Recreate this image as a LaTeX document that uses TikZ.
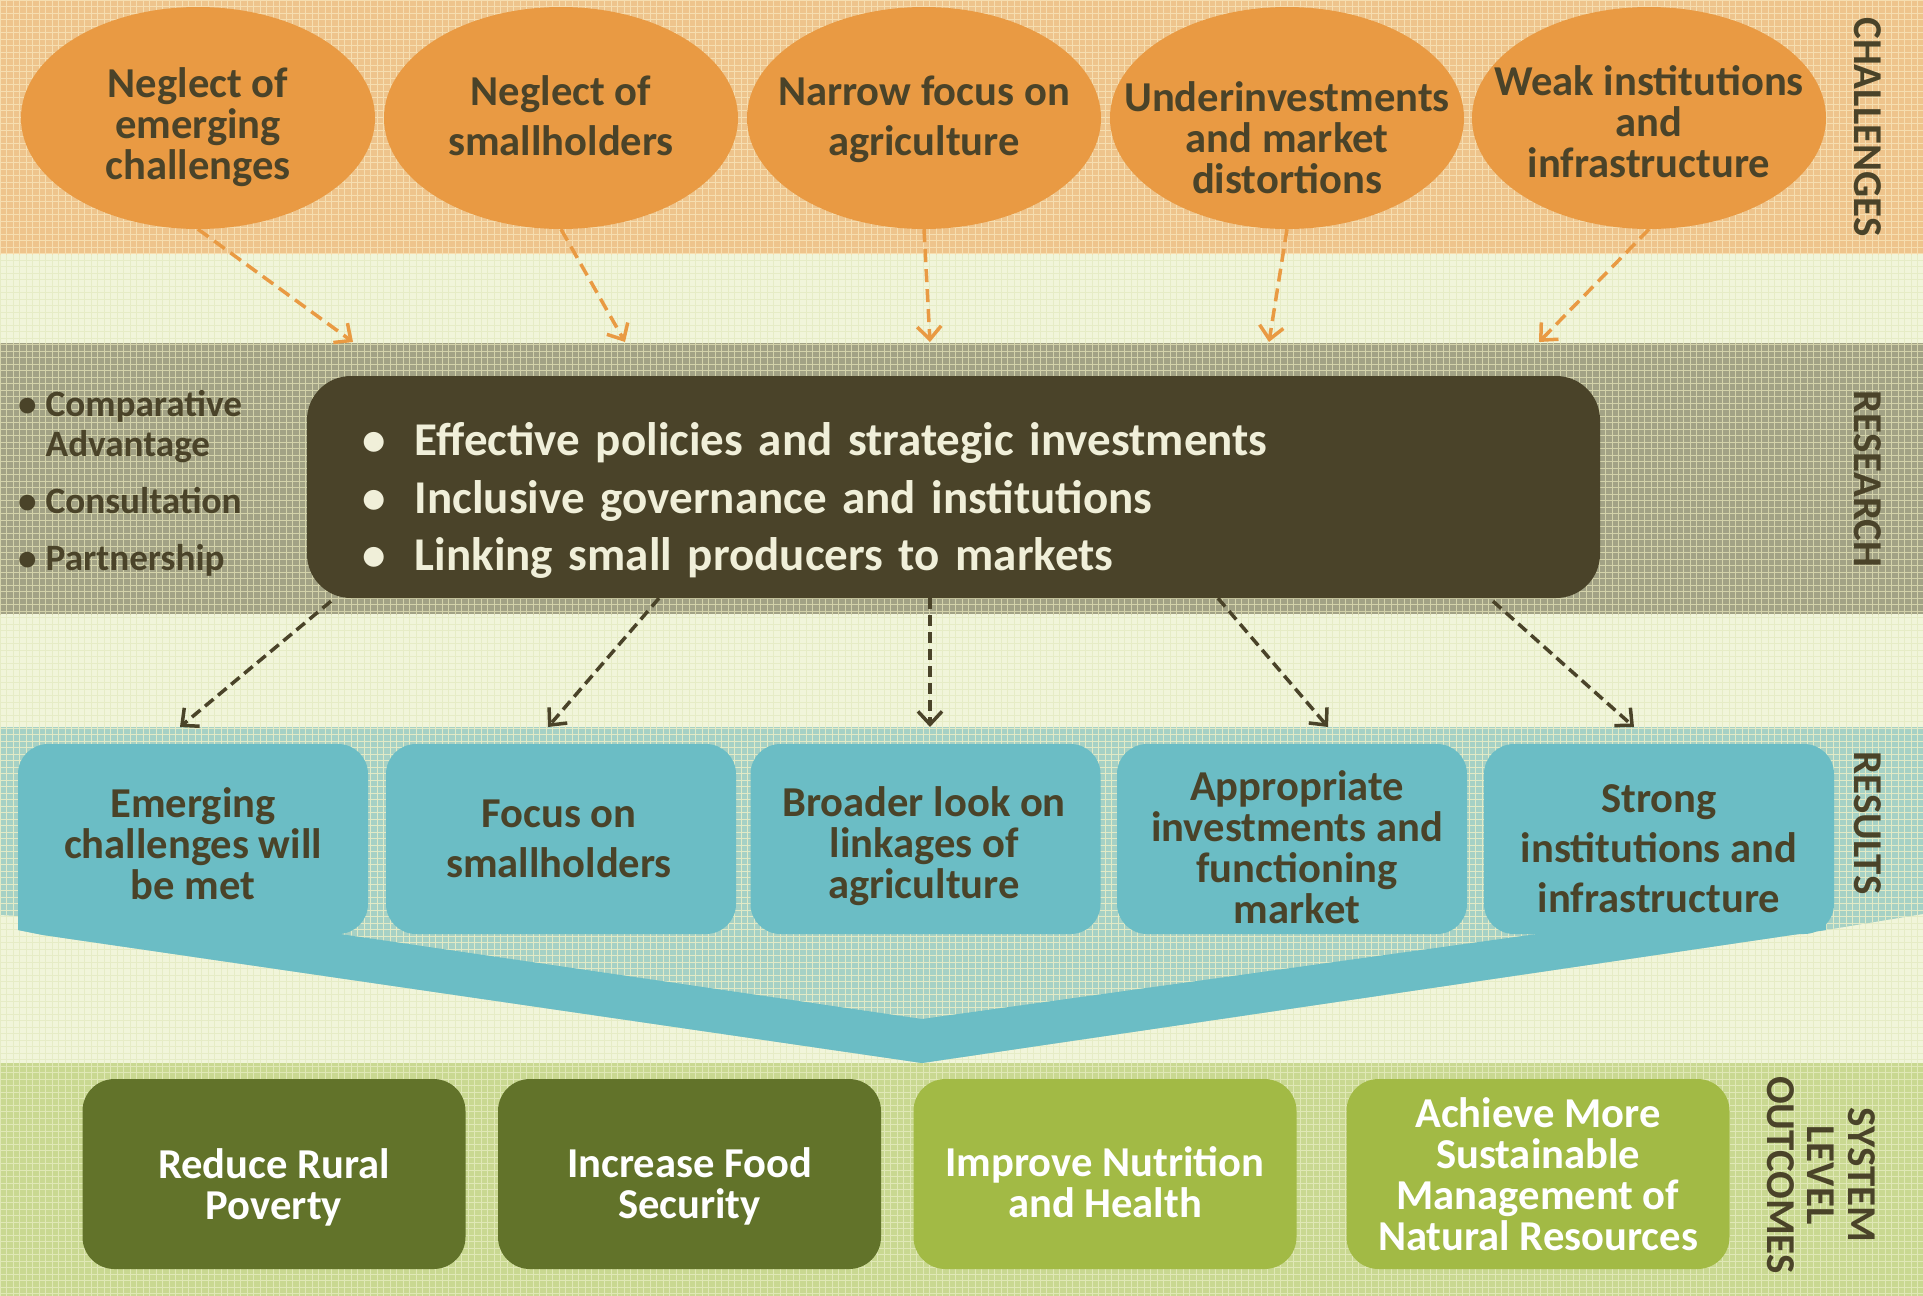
\documentclass[tikz,border=0pt]{standalone}
\usepackage{fontspec}
\setmainfont{Carlito}
\usetikzlibrary{arrows.meta,shapes.geometric}
\definecolor{creambg}{HTML}{F1F5DA}
\definecolor{creamgrid}{HTML}{E6ECC6}
\definecolor{orangeband}{HTML}{EEC48C}
\definecolor{orangegrid}{HTML}{F6DEB0}
\definecolor{researchband}{HTML}{A2A285}
\definecolor{researchgrid}{HTML}{D3D2AA}
\definecolor{resultband}{HTML}{A6D1C5}
\definecolor{resultgrid}{HTML}{E2EAC6}
\definecolor{greenband}{HTML}{C9D891}
\definecolor{greengrid}{HTML}{E0E8B6}
\definecolor{orangefill}{HTML}{E99A43}
\definecolor{darktext}{HTML}{4A4329}
\definecolor{tealfill}{HTML}{6BBDC5}
\definecolor{darkgreen}{HTML}{62732A}
\definecolor{lightgreen}{HTML}{A2BA45}
\definecolor{creamtext}{HTML}{F0EFD9}

\newcommand{\bandfill}[3]{%
  \begin{scope}
    \clip #3;
    \fill[#1] #3;
    \draw[#2, line width=0.8pt, xstep=6.5pt, ystep=6.5pt] (0,1296) grid (1923,0);
  \end{scope}}

\begin{document}
\begin{tikzpicture}[x=1pt,y=-1pt,
  ell/.style={ellipse, fill=orangefill, minimum width=354pt, minimum height=222pt, inner sep=0pt},
  etext/.style={align=center, text=darktext, inner sep=0pt, font=\fontsize{42.6}{41}\selectfont\bfseries},
  etextwide/.style={etext, font=\fontsize{42.6}{50}\selectfont\bfseries},
  oarrow/.style={draw=orangefill, line width=3.5pt, dash pattern=on 13pt off 7pt, -{Straight Barb[length=13pt,width=24pt]}},
  darrow/.style={draw=darktext, line width=3.5pt, dash pattern=on 11pt off 6pt, -{Straight Barb[length=13pt,width=24pt]}},
  rbox/.style={rounded corners=44pt, fill=darktext, minimum width=1293pt, minimum height=222pt, text width=1182pt, inner xsep=55.5pt, inner ysep=0pt, align=left, text=creamtext, font=\fontsize{47}{57.6}\selectfont\bfseries},
  lst/.style={anchor=west, text=darktext, inner sep=0pt, font=\fontsize{37.2}{40}\selectfont\bfseries},
  resbox/.style={rounded corners=30pt, fill=tealfill, minimum width=350pt, minimum height=190pt, inner sep=0pt},
  restext/.style={align=center, text=darktext, inner sep=0pt, font=\fontsize{42.6}{41}\selectfont\bfseries},
  restextwide/.style={restext, font=\fontsize{42.6}{50}\selectfont\bfseries},
  outbox/.style={rounded corners=32pt, minimum width=383pt, minimum height=190pt, inner sep=0pt},
  outtext/.style={align=center, text=white, inner sep=0pt, font=\fontsize{42.6}{41}\selectfont\bfseries},
  side/.style={rotate=-90, align=center, inner sep=0pt, text=darktext, font=\fontsize{41}{40.5}\selectfont\bfseries}
]
\useasboundingbox (0,0) rectangle (1923,1296);

% background bands
\bandfill{creambg}{creamgrid}{(0,0) rectangle (1923,1296)}
\bandfill{orangeband}{orangegrid}{(0,0) rectangle (1923,254)}
\bandfill{researchband}{researchgrid}{(0,343) rectangle (1923,614)}
\bandfill{resultband}{resultgrid}{(0,727) -- (1923,727) -- (1923,914) -- (1826,930) -- (922,1063) -- (43,935) -- (18,930) -- (18,916) -- (0,915) -- cycle}
\bandfill{greenband}{greengrid}{(0,1063) rectangle (1923,1296)}

% funnel
\fill[tealfill] (18,887) -- (18,930) -- (43,935) -- (922,1063) -- (1826,930) -- (1826,894) -- (922,1019) -- cycle;

% challenges
\node[ell] (e1) at (198,118) {};
\node[ell] (e2) at (561,118) {};
\node[ell] (e3) at (924,118) {};
\node[ell] (e4) at (1287,118) {};
\node[ell] (e5) at (1649,118) {};
\node[etext] (e1t) at (198,127) {Neglect of\\emerging\\challenges};
\node[etextwide] (e2t) at (561,116) {Neglect of\\smallholders};
\node[etextwide] (e3t) at (924,119) {Narrow focus on\\agriculture};
\node[etext] (e4t) at (1287,138) {Underinvestments\\and market\\distortions};
\node[etext] (e5t) at (1649,122) {Weak institutions\\and\\infrastructure};

\coordinate (t1) at (353,342);
\coordinate (t2) at (625,342);
\coordinate (t3) at (930,342);
\coordinate (t4) at (1269,342);
\coordinate (t5) at (1539,342);
\draw[oarrow] (e1.south) -- (t1);
\draw[oarrow] (e2.south) -- (t2);
\draw[oarrow] (e3.south) -- (t3);
\draw[oarrow] (e4.south) -- (t4);
\draw[oarrow] (e5.south) -- (t5);

% research
\node[rbox] (rb) at (953.5,487) {\rule{0pt}{60pt}\makebox[52.5pt][l]{\textbullet}Effective policies and strategic investments\\
\makebox[52.5pt][l]{\textbullet}Inclusive governance and institutions\\
\makebox[52.5pt][l]{\textbullet}Linking small producers to markets};

\node[lst] (l1) at (18,428) {\begin{tabular}{@{}l@{\hspace{9pt}}l@{}}\textbullet & Comparative\\ & Advantage\end{tabular}};
\node[lst] (l2) at (18,505) {\begin{tabular}{@{}l@{\hspace{9pt}}l@{}}\textbullet & Consultation\end{tabular}};
\node[lst] (l3) at (18,562) {\begin{tabular}{@{}l@{\hspace{9pt}}l@{}}\textbullet & Partnership\end{tabular}};

% results
\node[resbox] (r1) at (193,839) {};
\node[resbox] (r2) at (561,839) {};
\node[resbox] (r3) at (925.5,839) {};
\node[resbox] (r4) at (1292,839) {};
\node[resbox] (r5) at (1659,839) {};
\node[restext] (r1t) at (193,844) {Emerging\\challenges will\\be met};
\node[restextwide] (r2t) at (559,839) {Focus on\\smallholders};
\node[restext] (r3t) at (924,846) {Broader look on\\linkages of\\agriculture};
\node[restext] (r4t) at (1297,847) {Appropriate\\investments and\\functioning\\market};
\node[restextwide] (r5t) at (1659,849) {Strong\\institutions and\\infrastructure};

\coordinate (s1) at (331,0);
\coordinate (s2) at (659,0);
\coordinate (s3) at (930,0);
\coordinate (s4) at (1218,0);
\coordinate (s5) at (1493,0);
\coordinate (u1) at (180,727);
\coordinate (u2) at (548,727);
\coordinate (u3) at (930,727);
\coordinate (u4) at (1328,727);
\coordinate (u5) at (1634,727);
\draw[darrow] ([yshift=-3pt]s1 |- rb.south) -- (u1);
\draw[darrow] (s2 |- rb.south) -- (u2);
\draw[darrow] (s3 |- rb.south) -- (u3);
\draw[darrow] (s4 |- rb.south) -- (u4);
\draw[darrow] ([yshift=-3pt]s5 |- rb.south) -- (u5);

% outcomes
\node[outbox, fill=darkgreen] (o1) at (274,1174) {};
\node[outbox, fill=darkgreen] (o2) at (689.5,1174) {};
\node[outbox, fill=lightgreen] (o3) at (1105,1174) {};
\node[outbox, fill=lightgreen] (o4) at (1538,1174) {};
\node[outtext] (o1t) at (274,1187) {Reduce Rural\\Poverty};
\node[outtext] (o2t) at (689.5,1186) {Increase Food\\Security};
\node[outtext] (o3t) at (1105,1182) {Improve Nutrition\\and Health};
\node[outtext] (o4t) at (1538,1174) {Achieve More\\Sustainable\\Management of\\Natural Resources};

% side labels
\node[side] (lab1) at (1868,127) {CHALLENGES};
\node[side] (lab2) at (1868,479) {RESEARCH};
\node[side] (lab3) at (1868,823) {RESULTS};
\node[side] (lab4) at (1821,1175) {SYSTEM\\LEVEL\\OUTCOMES};
\end{tikzpicture}
\end{document}
